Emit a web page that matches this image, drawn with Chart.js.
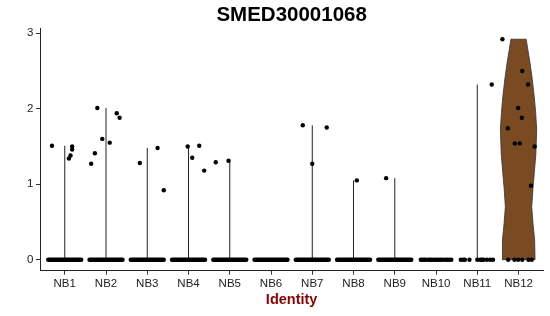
<!DOCTYPE html>
<html>
<head>
<meta charset="utf-8">
<script src="https://cdn.jsdelivr.net/npm/chart.js@4.4.1/dist/chart.umd.min.js"></script>
<style>
  html, body { margin: 0; padding: 0; background: #fff; }
</style>
</head>
<body>
<canvas id="vln" width="550" height="316"></canvas>
<script>
const categories = ['NB1', 'NB2', 'NB3', 'NB4', 'NB5', 'NB6', 'NB7', 'NB8', 'NB9', 'NB10', 'NB11', 'NB12'];
const yTicks = [0, 1, 2, 3];
const yRange = [-0.146, 3.066];

// cells with expression > 0, per identity, and their jitter (fraction of a category width)
const expressed = [
    [1.51, 1.50, 1.46, 1.38, 1.34],
    [2.01, 1.94, 1.88, 1.60, 1.55, 1.41, 1.27],
    [1.48, 1.28, 0.92],
    [1.50, 1.51, 1.35, 1.18],
    [1.29, 1.31],
    [],
    [1.78, 1.75, 1.27],
    [1.05],
    [1.08],
    [],
    [2.32],
    [2.92, 2.50, 2.32, 2.01, 1.88, 1.74, 1.54, 1.54, 1.50, 0.98]
];
const jitter = [
    [-0.31, 0.18, 0.18, 0.14, 0.10],
    [-0.21, 0.26, 0.33, -0.09, 0.09, -0.27, -0.36],
    [0.25, -0.18, 0.40],
    [-0.02, 0.26, 0.09, 0.38],
    [-0.34, -0.03],
    [],
    [-0.23, 0.35, 0.00],
    [0.08],
    [-0.21],
    [],
    [0.35],
    [-0.39, 0.09, 0.23, -0.01, 0.08, -0.26, -0.09, 0.03, 0.39, 0.30]
];

// zero-expression cells: these identities have so many that they merge into a solid row
const denseZeroRows = ['NB1', 'NB2', 'NB3', 'NB4', 'NB5', 'NB6', 'NB7', 'NB8', 'NB9'];
// the rest are few enough to see one by one
const zeroJitterNB10 = [-0.37, -0.33, -0.29, -0.25, -0.19, -0.15, -0.11, -0.06, -0.01, 0.03, 0.08, 0.12, 0.17, 0.23, 0.27, 0.32, 0.37];
const zeroJitterNB11 = [-0.40, -0.34, -0.30, -0.19, 0.00, 0.07, 0.11, 0.15, 0.23, 0.31, 0.38];
const zeroJitterNB12 = [-0.25, -0.10, -0.01, 0.09, 0.24, 0.32];

// NB12 violin outline: half width at each expression level
const violinLevels = [0, 0.26, 0.48, 0.7, 0.95, 1.14, 1.4, 1.72, 1.95, 2.16, 2.4, 2.6, 2.8, 2.92];
const violinHalfWidth = [0.40, 0.39, 0.35, 0.32, 0.35, 0.38, 0.42, 0.44, 0.415, 0.38, 0.33, 0.28, 0.22, 0.185];

const FONT = '"Liberation Sans", Arial, Helvetica, sans-serif';
const pos = name => categories.indexOf(name) + 1;

const datasets = [];

// jittered cells (expressed + sparse zeros)
const dots = [];
expressed.forEach((vals, i) => vals.forEach((v, k) => dots.push({ x: i + 1 + jitter[i][k], y: v })));
zeroJitterNB10.forEach(j => dots.push({ x: pos('NB10') + j, y: 0 }));
zeroJitterNB11.forEach(j => dots.push({ x: pos('NB11') + j, y: 0 }));
zeroJitterNB12.forEach(j => dots.push({ x: pos('NB12') + j, y: 0 }));
datasets.push({
    data: dots,
    showLine: false,
    pointRadius: 2.2,
    pointBackgroundColor: '#000',
    pointBorderWidth: 0,
    order: 0
});

// solid rows of zeros
denseZeroRows.forEach(name => {
    const c = pos(name);
    datasets.push({
        data: [{ x: c - 0.4, y: 0 }, { x: c + 0.4, y: 0 }],
        borderColor: '#000',
        borderWidth: 4.4,
        borderCapStyle: 'round',
        pointRadius: 0,
        order: 1
    });
});

// violins that collapse to a line from 0 to the group max
expressed.forEach((vals, i) => {
    if (!vals.length || categories[i] === 'NB12') return;
    datasets.push({
        data: [{ x: i + 1, y: 0 }, { x: i + 1, y: Math.max(...vals) }],
        borderColor: '#222',
        borderWidth: 1,
        pointRadius: 0,
        order: 2
    });
});

// NB12 violin
const c12 = pos('NB12');
const leftSide = violinLevels.map((y, k) => ({ x: c12 - violinHalfWidth[k], y }));
const rightSide = violinLevels.map((y, k) => ({ x: c12 + violinHalfWidth[k], y })).reverse();
datasets.push({
    data: [...leftSide, ...rightSide, leftSide[0]],
    borderColor: '#333',
    borderWidth: 0.8,
    backgroundColor: '#7A4A22',
    fill: 'shape',
    pointRadius: 0,
    tension: 0,
    order: 3
});

new Chart(document.getElementById('vln'), {
    type: 'line',
    data: { datasets },
    options: {
        responsive: false,
        animation: false,
        layout: { padding: { left: 0, right: 6.7, top: 0, bottom: 0 } },
        plugins: {
            legend: { display: false },
            tooltip: { enabled: false },
            title: {
                display: true,
                fullSize: false,
                text: 'SMED30001068',
                color: '#000',
                font: { family: FONT, size: 20.5, weight: 'bold' },
                padding: { top: 3.5, bottom: 0.1 }
            }
        },
        scales: {
            x: {
                type: 'linear',
                min: 0.4,
                max: 12.6,
                afterBuildTicks: s => { s.ticks = categories.map((c, i) => ({ value: i + 1 })); },
                afterFit: s => { s.height = 45.3; },
                ticks: {
                    callback: v => categories[Math.round(v) - 1],
                    autoSkip: false,
                    maxRotation: 0,
                    padding: 2,
                    color: '#222',
                    font: { family: FONT, size: 11.5 }
                },
                grid: { drawOnChartArea: false, drawTicks: true, tickLength: 4, tickColor: '#333', tickWidth: 1 },
                border: { display: true, color: '#222', width: 1 },
                title: {
                    display: true,
                    text: 'Identity',
                    color: '#8B0000',
                    font: { family: FONT, size: 14.5, weight: 'bold' },
                    padding: { top: 0, bottom: 7 }
                }
            },
            y: {
                type: 'linear',
                min: yRange[0],
                max: yRange[1],
                afterBuildTicks: s => { s.ticks = yTicks.map(v => ({ value: v })); },
                afterFit: s => { s.width = 40; },
                ticks: {
                    callback: v => String(v),
                    padding: 2.5,
                    color: '#222',
                    font: { family: FONT, size: 11.5 }
                },
                grid: { drawOnChartArea: false, drawTicks: true, tickLength: 4, tickColor: '#333', tickWidth: 1 },
                border: { display: true, color: '#222', width: 1 }
            }
        }
    }
});
</script>
</body>
</html>
